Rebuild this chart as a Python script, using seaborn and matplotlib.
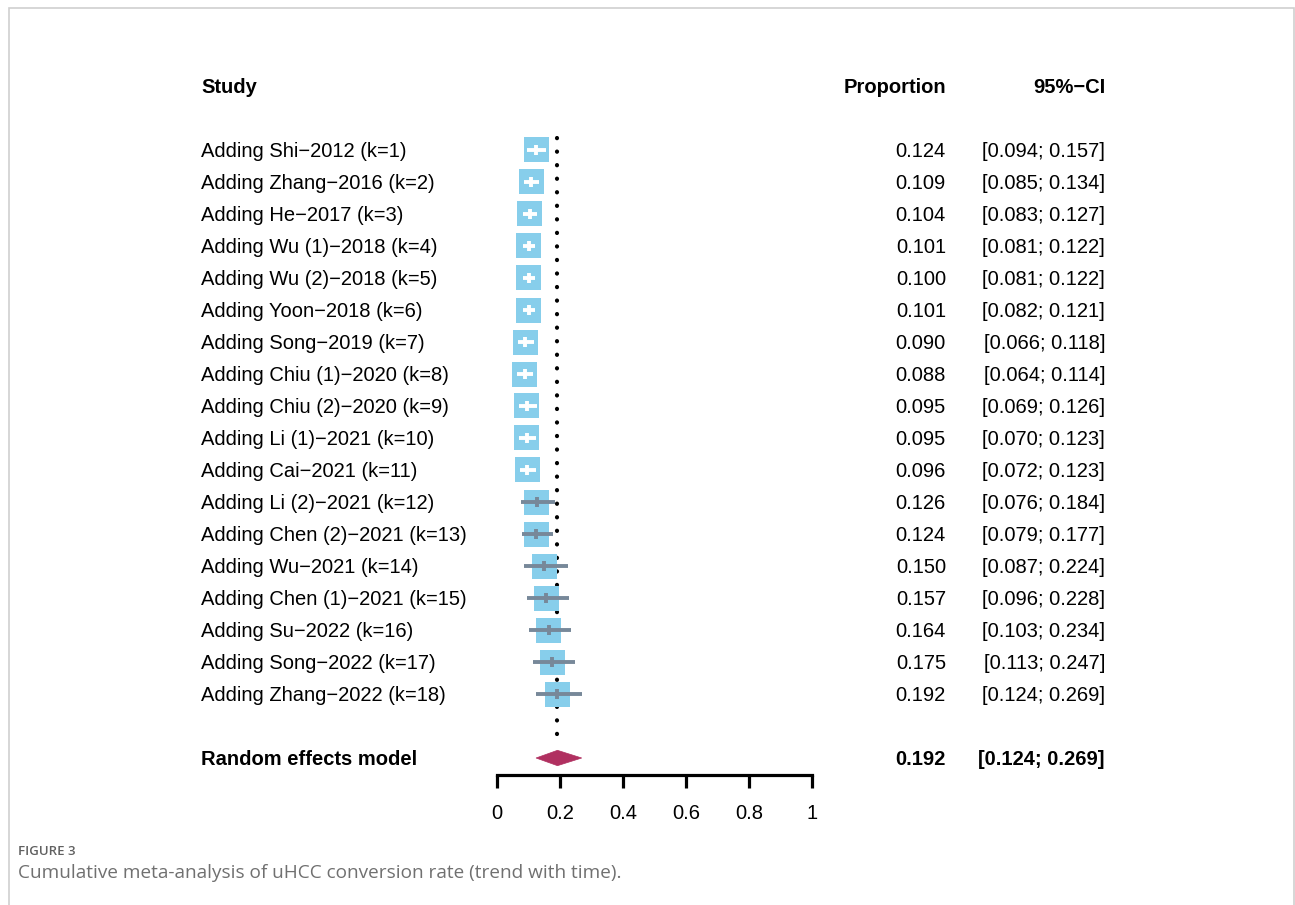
import numpy as np
import pandas as pd
import matplotlib
matplotlib.use("Agg")
import matplotlib.pyplot as plt
import matplotlib.transforms as mtransforms
from matplotlib.patches import Rectangle, Polygon
import seaborn as sns

# Cumulative meta-analysis data
labels = [
    "Adding Shi\u22122012 (k=1)",
    "Adding Zhang\u22122016 (k=2)",
    "Adding He\u22122017 (k=3)",
    "Adding Wu (1)\u22122018 (k=4)",
    "Adding Wu (2)\u22122018 (k=5)",
    "Adding Yoon\u22122018 (k=6)",
    "Adding Song\u22122019 (k=7)",
    "Adding Chiu (1)\u22122020 (k=8)",
    "Adding Chiu (2)\u22122020 (k=9)",
    "Adding Li (1)\u22122021 (k=10)",
    "Adding Cai\u22122021 (k=11)",
    "Adding Li (2)\u22122021 (k=12)",
    "Adding Chen (2)\u22122021 (k=13)",
    "Adding Wu\u22122021 (k=14)",
    "Adding Chen (1)\u22122021 (k=15)",
    "Adding Su\u22122022 (k=16)",
    "Adding Song\u22122022 (k=17)",
    "Adding Zhang\u22122022 (k=18)",
]
proportion = [0.124, 0.109, 0.104, 0.101, 0.100, 0.101, 0.090, 0.088, 0.095,
              0.095, 0.096, 0.126, 0.124, 0.150, 0.157, 0.164, 0.175, 0.192]
ci_lower = [0.094, 0.085, 0.083, 0.081, 0.081, 0.082, 0.066, 0.064, 0.069,
            0.070, 0.072, 0.076, 0.079, 0.087, 0.096, 0.103, 0.113, 0.124]
ci_upper = [0.157, 0.134, 0.127, 0.122, 0.122, 0.121, 0.118, 0.114, 0.126,
            0.123, 0.123, 0.184, 0.177, 0.224, 0.228, 0.234, 0.247, 0.269]

pooled_label = "Random effects model"
pooled_est = 0.192
pooled_lower = 0.124
pooled_upper = 0.269

xtick_values = [0, 0.2, 0.4, 0.6, 0.8, 1]
xtick_labels = ["0", "0.2", "0.4", "0.6", "0.8", "1"]

sns.set_style("white")
plt.rcParams["font.family"] = ["Liberation Sans", "DejaVu Sans"]
plt.rcParams["text.color"] = "black"
plt.rcParams["xtick.color"] = "black"
plt.rcParams["xtick.labelcolor"] = "black"

W, H = 1295, 905
fig = plt.figure(figsize=(W / 100, H / 100), dpi=100)

# Forest panel: x 0..1 spans px 497..812, rows 32 px apart
row_top_px, spine_px = 54, 775
ax = fig.add_axes([497 / W, (H - spine_px) / H, 315 / W, (spine_px - row_top_px) / H])
ax.set_xlim(0, 1)
y_top, y_bottom = -2.0, 1 + (spine_px - 150) / 32
ax.set_ylim(y_bottom, y_top)

df = pd.DataFrame({"label": labels, "est": proportion,
                   "lo": ci_lower, "hi": ci_upper})
df["row"] = np.arange(1, len(df) + 1)
pooled_row = 20

sky = "#87CEEB"
slate = "#778899"
maroon = "#B03060"

# reference line at pooled estimate
ax.plot([pooled_est, pooled_est], [0.62, 19.6], color="black", lw=3.0,
        ls=(0, (0.05, 3.2)), dash_capstyle="round", clip_on=False, zorder=1)

# study squares
side_pt = 18.0
sns.scatterplot(data=df, x="est", y="row", marker="s", s=side_pt ** 2,
                color=sky, edgecolor="none", linewidth=0, ax=ax,
                legend=False, clip_on=False, zorder=2)

half = (side_pt / 72 * 100) / 2 / 315
inside = ((df["est"] - df["lo"]) < half) & ((df["hi"] - df["est"]) < half)
ci_colors = np.where(inside, "white", slate)
ax.hlines(df["row"], df["lo"], df["hi"], colors=ci_colors, lw=2.8,
          zorder=3, clip_on=False)
ax.vlines(df["est"], df["row"] - 0.15, df["row"] + 0.15, colors=ci_colors,
          lw=2.8, zorder=3, clip_on=False)

# pooled diamond
dh = 0.24
diamond = Polygon([[pooled_lower, pooled_row], [pooled_est, pooled_row - dh],
                   [pooled_upper, pooled_row], [pooled_est, pooled_row + dh]],
                  closed=True, facecolor=maroon, edgecolor=maroon, lw=0.5,
                  zorder=3, clip_on=False)
ax.add_patch(diamond)

# axis styling
for s in ["left", "right", "top"]:
    ax.spines[s].set_visible(False)
ax.spines["bottom"].set_bounds(0, 1)
ax.spines["bottom"].set_linewidth(2.3)
ax.spines["bottom"].set_color("black")
ax.set_yticks([])
ax.set_xticks(xtick_values)
ax.set_xticklabels(xtick_labels)
ax.tick_params(axis="x", direction="out", length=9, width=2.3, color="black",
               pad=12, labelsize=14.5, bottom=True)
ax.set_xlabel("")
ax.set_ylabel("")

# text columns
tr = mtransforms.blended_transform_factory(fig.transFigure, ax.transData)
fs = 14.5
x_study, x_prop, x_ci = 201 / W, 946 / W, 1105 / W
dy = 0.05

fig.text(x_study, -1 + dy, "Study", transform=tr, ha="left", va="center",
         fontsize=fs, fontweight="bold")
fig.text(x_prop, -1 + dy, "Proportion", transform=tr, ha="right", va="center",
         fontsize=fs, fontweight="bold")
fig.text(x_ci, -1 + dy, "95%\u2212CI", transform=tr, ha="right", va="center",
         fontsize=fs, fontweight="bold")

for _, r in df.iterrows():
    y = r["row"] + dy
    fig.text(x_study, y, r["label"], transform=tr, ha="left",
             va="center", fontsize=fs)
    fig.text(x_prop, y, f"{r['est']:.3f}", transform=tr, ha="right",
             va="center", fontsize=fs)
    fig.text(x_ci, y, f"[{r['lo']:.3f}; {r['hi']:.3f}]", transform=tr,
             ha="right", va="center", fontsize=fs)

fig.text(x_study, pooled_row + dy, pooled_label, transform=tr, ha="left",
         va="center", fontsize=fs, fontweight="bold")
fig.text(x_prop, pooled_row + dy, f"{pooled_est:.3f}", transform=tr, ha="right",
         va="center", fontsize=fs, fontweight="bold")
fig.text(x_ci, pooled_row + dy, f"[{pooled_lower:.3f}; {pooled_upper:.3f}]",
         transform=tr, ha="right", va="center", fontsize=fs, fontweight="bold")

# caption
fig.text(18 / W, 1 - 851 / H, "FIGURE 3", ha="left", va="center",
         fontsize=9.5, color="#606060", fontweight="semibold",
         family=["Open Sans", "DejaVu Sans"])
fig.text(18 / W, 1 - 873 / H,
         "Cumulative meta-analysis of uHCC conversion rate (trend with time).",
         ha="left", va="center", fontsize=13.7, color="#707070",
         family=["Open Sans", "DejaVu Sans"])

# page frame
fig.patches.append(Rectangle((9 / W, -0.05), (1294 - 9) / W, 1.05 - 8 / H,
                             transform=fig.transFigure, fill=False,
                             edgecolor="#cfcfcf", lw=1.2, zorder=0))

fig.savefig("out.png", dpi=100)
